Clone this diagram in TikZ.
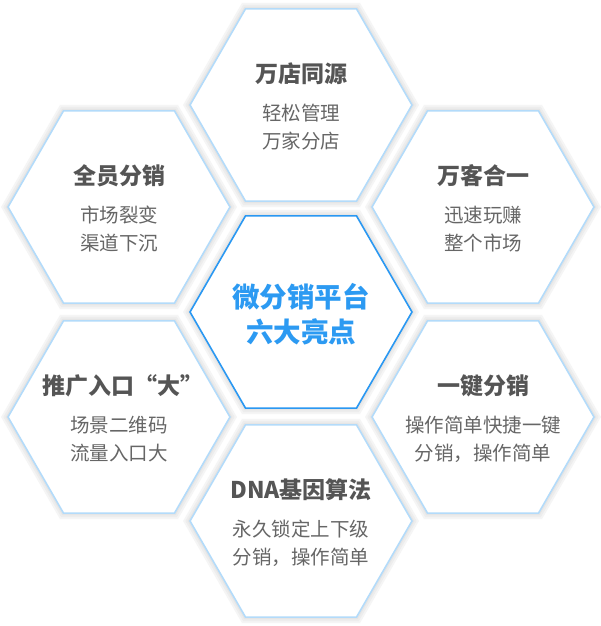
\documentclass[tikz,border=0pt]{standalone}
\usepackage{fontspec}
\setmainfont{Noto Sans CJK SC}
\usetikzlibrary{shapes.geometric}
\definecolor{hexline}{HTML}{B3DBFA}
\definecolor{centerline}{HTML}{2A98F2}
\definecolor{centertext}{HTML}{2C9AF2}
\definecolor{titletext}{HTML}{555555}
\definecolor{subtext}{HTML}{666666}
\tikzset{
  hexbase/.style={regular polygon, regular polygon sides=6,
    minimum size=222pt, inner sep=0pt, outer sep=0pt, fill=white,
    preaction={draw=black!4, line width=12pt},
    preaction={draw=black!7, line width=8pt},
    preaction={draw=black!10, line width=4pt}},
  hexbox/.style={hexbase, draw=hexline, line width=1.6pt},
  hexcenter/.style={hexbase, draw=centerline, line width=1.6pt},
  titletxt/.style={font=\bfseries\fontsize{23}{27}\selectfont, text=titletext, inner sep=0pt},
  subtxt/.style={font=\fontsize{19.5}{28}\selectfont, text=subtext, align=center, inner sep=0pt},
  centertxt/.style={font=\bfseries\fontsize{27.5}{35}\selectfont, text=centertext, align=center, inner sep=0pt}
}
\begin{document}
\begin{tikzpicture}[x=1pt,y=-1pt]
\useasboundingbox (0,0) rectangle (601,626);
\fill[white] (0,0) rectangle (601,626);
% hexagons
\node[hexbox] (top) at (301,105) {};
\node[hexbox] (ul) at (119,207) {};
\node[hexbox] (ur) at (483,207) {};
\node[hexbox] (ll) at (119,417) {};
\node[hexbox] (lr) at (483,417) {};
\node[hexbox] (bot) at (301,521) {};
\node[hexcenter] (mid) at (301,312) {};
% texts
\node[titletxt] (topT) at ([yshift=31pt]top.center) {万店同源};
\node[subtxt] (topS) at ([yshift=-22pt]top.center) {轻松管理\\万家分店};
\node[titletxt] (ulT) at ([yshift=31pt]ul.center) {全员分销};
\node[subtxt] (ulS) at ([yshift=-22pt]ul.center) {市场裂变\\渠道下沉};
\node[titletxt] (urT) at ([yshift=31pt]ur.center) {万客合一};
\node[subtxt] (urS) at ([yshift=-22pt]ur.center) {迅速玩赚\\整个市场};
\node[titletxt] (llT) at ([xshift=4pt,yshift=31pt]ll.center) {推广入口“大”};
\node[subtxt] (llS) at ([yshift=-22pt]ll.center) {场景二维码\\流量入口大};
\node[titletxt] (lrT) at ([yshift=31pt]lr.center) {一键分销};
\node[subtxt] (lrS) at ([yshift=-22pt]lr.center) {操作简单快捷一键\\分销，操作简单};
\node[titletxt] (botT) at ([yshift=31pt]bot.center) {DNA基因算法};
\node[subtxt] (botS) at ([yshift=-22pt]bot.center) {永久锁定上下级\\分销，操作简单};
\node[centertxt] (midT) at ([yshift=-2pt]mid.center) {微分销平台\\六大亮点};
\end{tikzpicture}
\end{document}
